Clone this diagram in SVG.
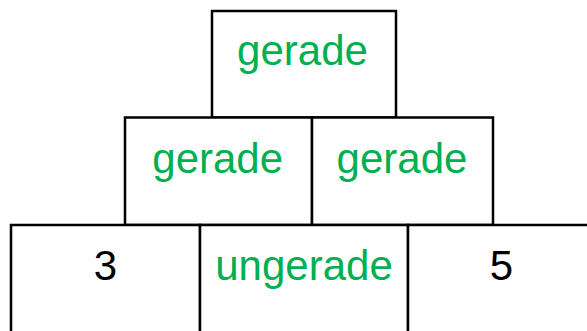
<svg xmlns="http://www.w3.org/2000/svg" width="587" height="331" viewBox="0 0 587 331">
<style>
.box{fill:#fff;stroke:#000;stroke-width:2.5}
.t{font-family:"Liberation Sans",Arial,sans-serif;font-size:42px;text-anchor:middle}
.g{fill:#00B050}
.k{fill:#000}
</style>
<rect width="587" height="331" fill="#fff"/>
<g id="top"><rect class="box" x="212" y="11" width="184" height="106.5"/><text class="t g" x="302.5" y="65">gerade</text></g>
<g id="midL"><rect class="box" x="125" y="117.5" width="187" height="107.5"/><text class="t g" x="217.7" y="173">gerade</text></g>
<g id="midR"><rect class="box" x="312" y="117.5" width="181" height="107.5"/><text class="t g" x="402" y="173">gerade</text></g>
<g id="b1"><rect class="box" x="11" y="225" width="189" height="120"/><text class="t k" x="105.5" y="280">3</text></g>
<g id="b2"><rect class="box" x="200" y="225" width="208" height="120"/><text class="t g" x="304" y="280">ungerade</text></g>
<g id="b3"><rect class="box" x="408" y="225" width="190" height="120"/><text class="t k" x="501.5" y="280">5</text></g>
<g id="connectors"/>
</svg>
